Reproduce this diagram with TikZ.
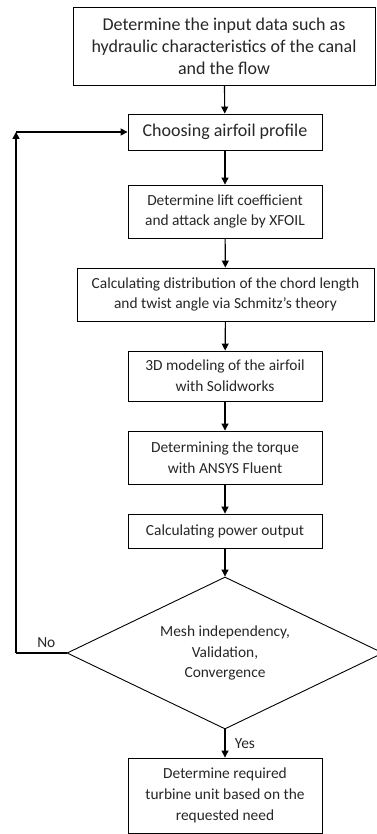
\documentclass[tikz,border=0pt]{standalone}
\usepackage{fontspec}
\setmainfont{Carlito}
\usetikzlibrary{shapes.geometric,arrows.meta}
\tikzset{
  box/.style={draw=black, line width=0.9pt, align=center, inner sep=0pt, text=black!85},
  flow/.style={line width=1.1pt, -{Triangle[length=7pt,width=7pt]}},
  loopline/.style={line width=1.6pt},
  big/.style={font=\fontsize{18}{22}\selectfont},
  small/.style={font=\fontsize{15.4}{20.8}\selectfont},
}
\begin{document}
\begin{tikzpicture}[x=1pt,y=-1pt]
\useasboundingbox (0,0) rectangle (376,834);
\node[box,big,minimum width=302pt,minimum height=78pt] (b1) at (224,46) {Determine the input data such as\\hydraulic characteristics of the canal\\and the flow};
\node[box,big,minimum width=194pt,minimum height=36pt] (b2) at (225,132) {Choosing airfoil profile};
\node[box,small,minimum width=194pt,minimum height=53pt] (b3) at (225,211.5) {Determine lift coefficient\\and attack angle by XFOIL};
\node[box,small,minimum width=297pt,minimum height=53pt] (b4) at (225.5,294.5) {Calculating distribution of the chord length\\and twist angle via Schmitz's theory};
\node[box,small,minimum width=194pt,minimum height=50pt] (b5) at (225,376) {3D modeling of the airfoil\\with Solidworks};
\node[box,small,minimum width=194pt,minimum height=53pt] (b6) at (225,457.5) {Determining the torque\\with ANSYS Fluent};
\node[box,small,minimum width=194pt,minimum height=34pt] (b7) at (225,531) {Calculating power output};
\node[box,small,shape=diamond,aspect=2.08,minimum width=316pt,minimum height=152pt] (d) at (225,653) {Mesh independency,\\Validation,\\Convergence};
\node[box,small,minimum width=194pt,minimum height=75pt] (b8) at (225,795.5) {Determine required\\turbine unit based on the\\requested need};
\draw[flow] (b1) -- (b2);
\draw[flow] (b2) -- (b3);
\draw[flow] (b3) -- (b4);
\draw[flow] (b4) -- (b5);
\draw[flow] (b5) -- (b6);
\draw[flow] (b6) -- (b7);
\draw[flow] (b7) -- (d);
\draw[flow] (d) -- node[right=6pt,small,text=black!85] (yes) {Yes} (b8);
\coordinate (c1) at (16,653);
\coordinate (c2) at (16,132);
\draw[loopline] (d.west) -- node[above=1pt,small,text=black!85,pos=0.4] (no) {No} (c1);
\draw[loopline,-{Triangle[length=7pt,width=7pt]}] (c1) -- (c2);
\draw[loopline,-{Triangle[length=7pt,width=7pt]}] (c2) -- (b2.west);
\end{tikzpicture}
\end{document}
